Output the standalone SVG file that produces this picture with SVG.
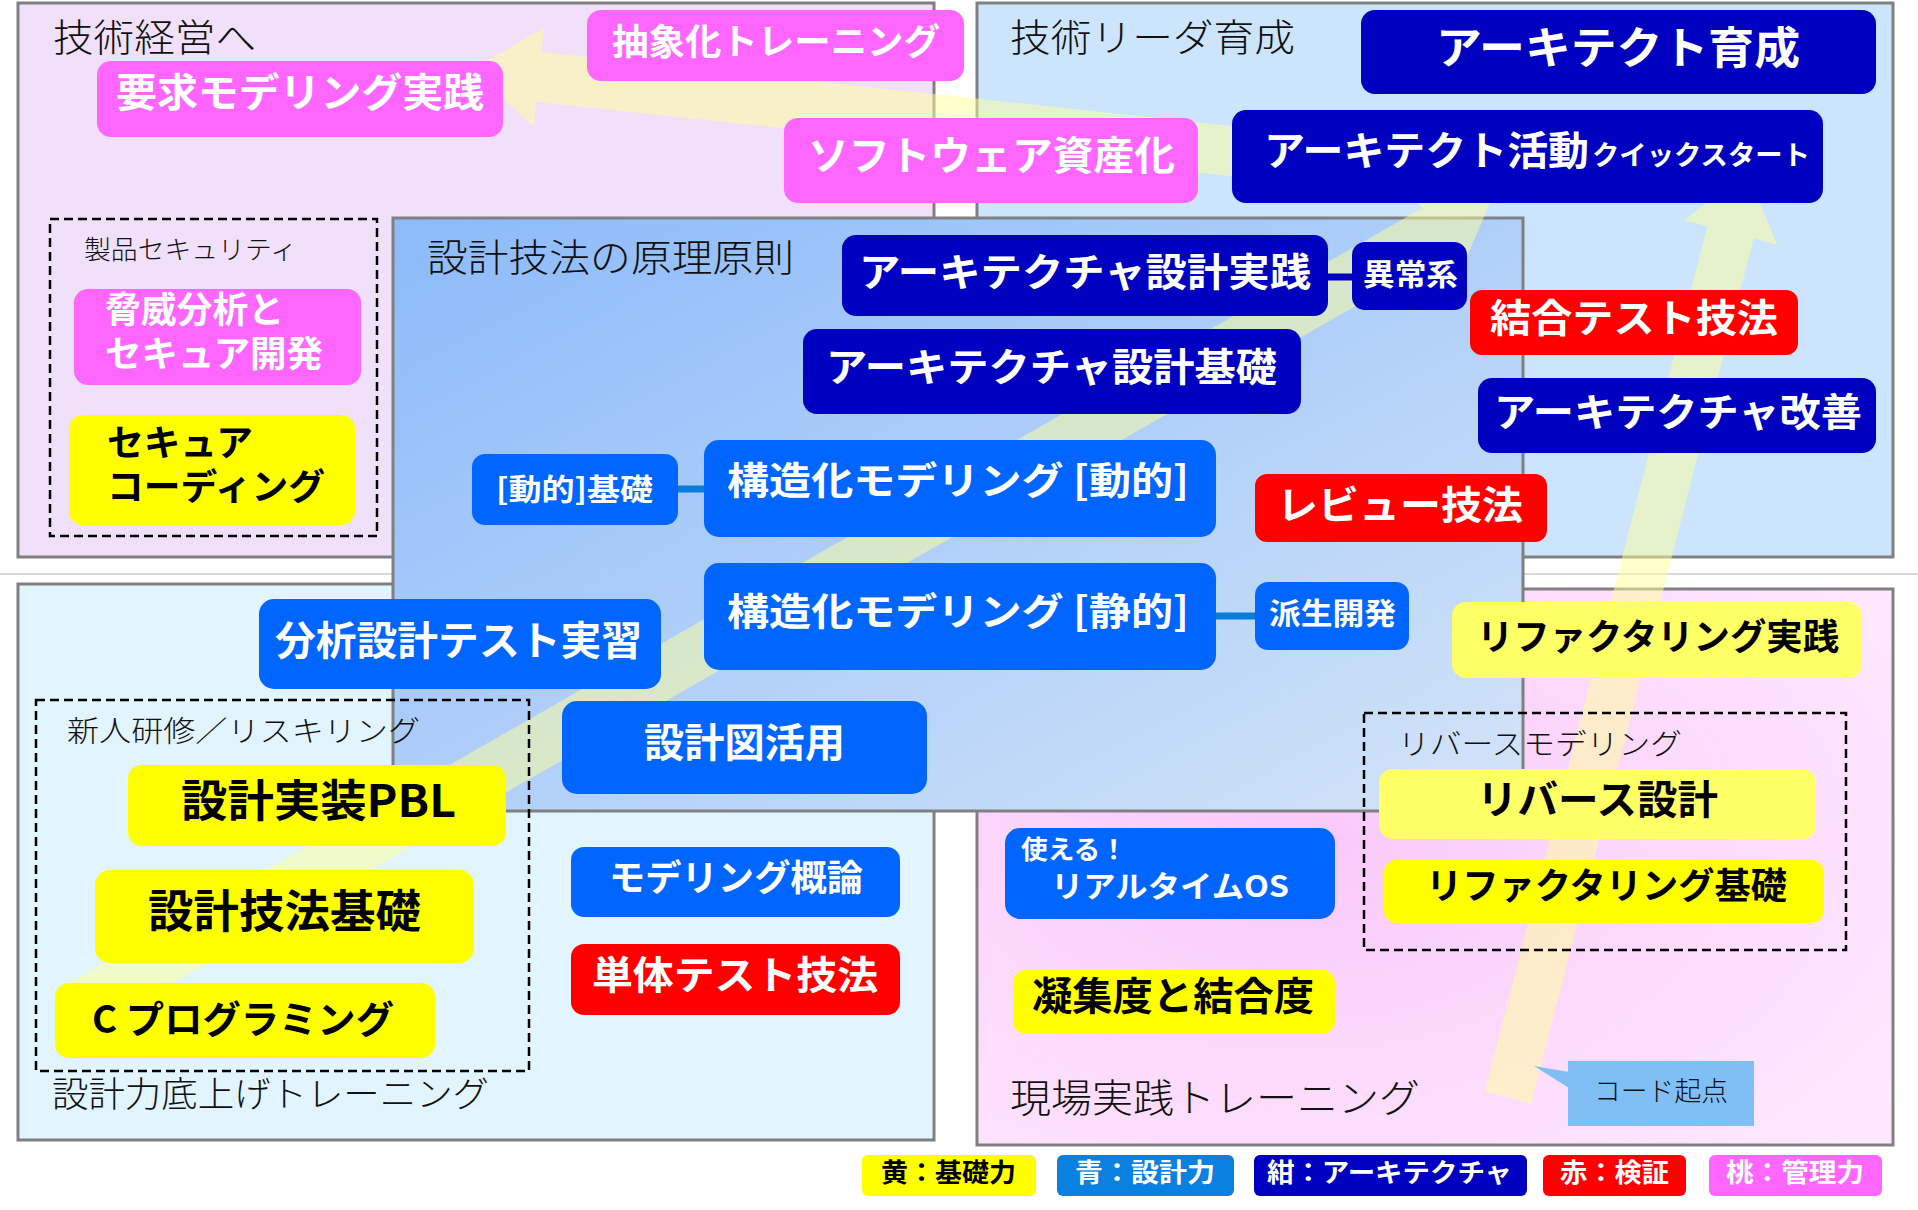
<svg xmlns="http://www.w3.org/2000/svg" width="1918" height="1210" viewBox="0 0 1918 1210">
<defs>
<linearGradient id="gCenter" x1="0" y1="0" x2="1" y2="1">
<stop offset="0" stop-color="#8CBAFA"/>
<stop offset="1" stop-color="#D3E4F8"/>
</linearGradient>
<radialGradient id="gPink" cx="0.35" cy="0.45" r="0.8">
<stop offset="0" stop-color="#F9C8F9"/>
<stop offset="1" stop-color="#FFE9FF"/>
</radialGradient>
<style>
.pn{stroke:#808080;stroke-width:3}
.lbl{font-family:"Noto Sans CJK JP","Noto Sans",sans-serif;font-weight:300;fill:#111}
.t{font-family:"Noto Sans CJK JP","Noto Sans",sans-serif;font-weight:700;fill:#fff}
.tk{font-family:"Noto Sans CJK JP","Noto Sans",sans-serif;font-weight:700;fill:#000}
.dash{fill:none;stroke:#000;stroke-width:2.5;stroke-dasharray:9 5}
.band{fill:#FFFF99;opacity:0.5}
.pink{fill:#FF66FF}
.navy{fill:#0000C0}
.blue{fill:#0066FF}
.red{fill:#FF0000}
.yel{fill:#FFFF00}
.lyel{fill:#FFFF66}
</style>
</defs>
<rect width="1918" height="1210" fill="#fff"/>
<line x1="0" y1="574" x2="1918" y2="574" stroke="#D9D9D9" stroke-width="2"/>

<g id="panel-management">
<rect x="18" y="3" width="916" height="554" fill="#F0E0F9" class="pn"/>
</g>
<g id="panel-leader">
<rect x="977" y="3" width="916" height="554" fill="#CCE5FC" class="pn"/>
</g>
<g id="panel-basic">
<rect x="18" y="584" width="916" height="556" fill="#E2F4FD" class="pn"/>
</g>
<g id="panel-field">
<rect x="977" y="589" width="916" height="556" fill="url(#gPink)" class="pn"/>
</g>
<g id="panel-principle">
<rect x="393" y="218" width="1130" height="593" fill="url(#gCenter)" class="pn"/>
</g>

<g id="growth-arrows">
<polygon class="band" points="1492,198 1459.6,274.2 1447.6,253.4 87.9,1031.9 62.1,986.7 1421.8,208.2 1409.9,187.4"/>
<polygon class="band" points="1746.4,170.5 1777,244.5 1753.7,238.5 1531.2,1103.5 1484.8,1091.5 1707.3,226.5 1684,220.5"/>
<polygon class="band" points="471.4,69.8 544.3,27.3 541.7,52.1 1302.7,133.5 1297.3,183.3 536.3,101.9 533.7,126.7"/>
</g>

<g id="panel-labels">
<text class="lbl" x="53" y="51" font-size="38" textLength="203" lengthAdjust="spacingAndGlyphs">技術経営へ</text>
<text class="lbl" x="1010" y="51" font-size="38" textLength="285" lengthAdjust="spacingAndGlyphs">技術リーダ育成</text>
<text class="lbl" x="427" y="271" font-size="38" textLength="367" lengthAdjust="spacingAndGlyphs">設計技法の原理原則</text>
<text class="lbl" x="52" y="1107" font-size="35" textLength="437" lengthAdjust="spacingAndGlyphs">設計力底上げトレーニング</text>
<text class="lbl" x="1010" y="1112" font-size="39" textLength="410" lengthAdjust="spacingAndGlyphs">現場実践トレーニング</text>
</g>

<g id="group-security">
<rect class="dash" x="50" y="219" width="327" height="317"/>
<text class="lbl" x="84" y="259" font-size="26" textLength="213" lengthAdjust="spacingAndGlyphs">製品セキュリティ</text>
</g>
<g id="group-newcomer">
<rect class="dash" x="36" y="700" width="493" height="371"/>
<text class="lbl" x="67" y="742" font-size="29" textLength="353" lengthAdjust="spacingAndGlyphs">新人研修／リスキリング</text>
</g>
<g id="group-reverse">
<rect class="dash" x="1364" y="713" width="482" height="237"/>
<text class="lbl" x="1398" y="755" font-size="29" textLength="284" lengthAdjust="spacingAndGlyphs">リバースモデリング</text>
</g>

<g id="connectors">
<line x1="1326" y1="277" x2="1354" y2="277" stroke="#0000C0" stroke-width="7"/>
<line x1="676" y1="489" x2="706" y2="489" stroke="#0A7CD8" stroke-width="7"/>
<line x1="1214" y1="616" x2="1257" y2="616" stroke="#0A7CD8" stroke-width="7"/>
</g>

<g id="n-abstraction">
<rect class="pink" x="587" y="10" width="377" height="71" rx="14"/>
<text class="t" x="612" y="55" font-size="36" textLength="328" lengthAdjust="spacingAndGlyphs">抽象化トレーニング</text>
</g>
<g id="n-req-modeling">
<rect class="pink" x="97" y="61" width="406" height="76" rx="14"/>
<text class="t" x="116" y="107" font-size="40" textLength="368" lengthAdjust="spacingAndGlyphs">要求モデリング実践</text>
</g>
<g id="n-software-asset">
<rect class="pink" x="784" y="118" width="414" height="85" rx="14"/>
<text class="t" x="808" y="170" font-size="40" textLength="367" lengthAdjust="spacingAndGlyphs">ソフトウェア資産化</text>
</g>
<g id="n-threat">
<rect class="pink" x="74" y="289" width="287" height="96" rx="14"/>
<text class="t" x="105" y="323" font-size="36" textLength="179" lengthAdjust="spacingAndGlyphs">脅威分析と</text>
<text class="t" x="105" y="367" font-size="36" textLength="218" lengthAdjust="spacingAndGlyphs">セキュア開発</text>
</g>
<g id="n-secure-coding">
<rect class="yel" x="69" y="415" width="286" height="110" rx="14"/>
<text class="tk" x="107" y="456" font-size="36" textLength="146" lengthAdjust="spacingAndGlyphs">セキュア</text>
<text class="tk" x="107" y="500" font-size="36" textLength="218" lengthAdjust="spacingAndGlyphs">コーディング</text>
</g>
<g id="n-architect-dev">
<rect class="navy" x="1361" y="10" width="515" height="84" rx="14"/>
<text class="t" x="1436" y="64" font-size="44" textLength="364" lengthAdjust="spacingAndGlyphs">アーキテクト育成</text>
</g>
<g id="n-architect-qs">
<rect class="navy" x="1232" y="110" width="591" height="93" rx="14"/>
<text class="t" x="1264" y="165" font-size="40" textLength="325" lengthAdjust="spacingAndGlyphs">アーキテクト活動</text>
<text class="t" x="1592" y="165" font-size="27" textLength="218" lengthAdjust="spacingAndGlyphs">クイックスタート</text>
</g>
<g id="n-arch-practice">
<rect class="navy" x="842" y="235" width="486" height="81" rx="14"/>
<text class="t" x="859" y="286" font-size="39" textLength="452" lengthAdjust="spacingAndGlyphs">アーキテクチャ設計実践</text>
</g>
<g id="n-abnormal">
<rect class="navy" x="1352" y="242" width="115" height="68" rx="13"/>
<text class="t" x="1363" y="285" font-size="30" textLength="95" lengthAdjust="spacingAndGlyphs">異常系</text>
</g>
<g id="n-arch-basic">
<rect class="navy" x="803" y="329" width="498" height="85" rx="14"/>
<text class="t" x="826" y="381" font-size="39" textLength="451" lengthAdjust="spacingAndGlyphs">アーキテクチャ設計基礎</text>
</g>
<g id="n-integration-test">
<rect class="red" x="1470" y="290" width="328" height="65" rx="12"/>
<text class="t" x="1490" y="332" font-size="39" textLength="288" lengthAdjust="spacingAndGlyphs">結合テスト技法</text>
</g>
<g id="n-arch-improve">
<rect class="navy" x="1478" y="378" width="398" height="75" rx="14"/>
<text class="t" x="1494" y="426" font-size="39" textLength="368" lengthAdjust="spacingAndGlyphs">アーキテクチャ改善</text>
</g>
<g id="n-dynamic-basic">
<rect class="blue" x="472" y="454" width="206" height="71" rx="13"/>
<text class="t" x="496" y="500" font-size="30" textLength="157" lengthAdjust="spacingAndGlyphs">[動的]基礎</text>
</g>
<g id="n-struct-dynamic">
<rect class="blue" x="704" y="440" width="512" height="97" rx="15"/>
<text class="t" x="727" y="494" font-size="38" textLength="462" lengthAdjust="spacingAndGlyphs">構造化モデリング [動的]</text>
</g>
<g id="n-review">
<rect class="red" x="1255" y="474" width="292" height="68" rx="12"/>
<text class="t" x="1277" y="519" font-size="39" textLength="246" lengthAdjust="spacingAndGlyphs">レビュー技法</text>
</g>
<g id="n-struct-static">
<rect class="blue" x="704" y="563" width="512" height="107" rx="15"/>
<text class="t" x="727" y="625" font-size="38" textLength="462" lengthAdjust="spacingAndGlyphs">構造化モデリング [静的]</text>
</g>
<g id="n-derivative">
<rect class="blue" x="1255" y="582" width="154" height="68" rx="13"/>
<text class="t" x="1269" y="624" font-size="30" textLength="127" lengthAdjust="spacingAndGlyphs">派生開発</text>
</g>
<g id="n-analysis-practice">
<rect class="blue" x="259" y="599" width="402" height="90" rx="15"/>
<text class="t" x="275" y="655" font-size="40" textLength="367" lengthAdjust="spacingAndGlyphs">分析設計テスト実習</text>
</g>
<g id="n-diagram-use">
<rect class="blue" x="562" y="701" width="365" height="93" rx="15"/>
<text class="t" x="644" y="757" font-size="40" textLength="201" lengthAdjust="spacingAndGlyphs">設計図活用</text>
</g>
<g id="n-pbl">
<rect class="yel" x="128" y="765" width="378" height="81" rx="14"/>
<text class="tk" x="181" y="817" font-size="44" textLength="275" lengthAdjust="spacingAndGlyphs">設計実装PBL</text>
</g>
<g id="n-design-basic">
<rect class="yel" x="95" y="870" width="379" height="93" rx="15"/>
<text class="tk" x="148" y="928" font-size="45" textLength="273" lengthAdjust="spacingAndGlyphs">設計技法基礎</text>
</g>
<g id="n-c-programming">
<rect class="yel" x="55" y="983" width="380" height="75" rx="14"/>
<text class="tk" x="92" y="1033" font-size="38" textLength="302" lengthAdjust="spacingAndGlyphs">C プログラミング</text>
</g>
<g id="n-modeling-intro">
<rect class="blue" x="571" y="847" width="329" height="70" rx="13"/>
<text class="t" x="609" y="891" font-size="36" textLength="254" lengthAdjust="spacingAndGlyphs">モデリング概論</text>
</g>
<g id="n-unit-test">
<rect class="red" x="571" y="944" width="329" height="71" rx="13"/>
<text class="t" x="592" y="989" font-size="39" textLength="286" lengthAdjust="spacingAndGlyphs">単体テスト技法</text>
</g>
<g id="n-refactoring-practice">
<rect class="lyel" x="1452" y="602" width="410" height="76" rx="14"/>
<text class="tk" x="1477" y="650" font-size="36" textLength="362" lengthAdjust="spacingAndGlyphs">リファクタリング実践</text>
</g>
<g id="n-reverse-design">
<rect class="lyel" x="1379" y="769" width="437" height="70" rx="14"/>
<text class="tk" x="1477" y="814" font-size="40" textLength="241" lengthAdjust="spacingAndGlyphs">リバース設計</text>
</g>
<g id="n-refactoring-basic">
<rect class="yel" x="1384" y="860" width="440" height="63" rx="13"/>
<text class="tk" x="1426" y="899" font-size="36" textLength="361" lengthAdjust="spacingAndGlyphs">リファクタリング基礎</text>
</g>
<g id="n-rtos">
<rect class="blue" x="1005" y="828" width="330" height="91" rx="15"/>
<text class="t" x="1021" y="859" font-size="26" textLength="106" lengthAdjust="spacingAndGlyphs">使える！</text>
<text class="t" x="1051" y="897" font-size="30" textLength="238" lengthAdjust="spacingAndGlyphs">リアルタイムOS</text>
</g>
<g id="n-cohesion">
<rect class="yel" x="1013" y="970" width="322" height="64" rx="13"/>
<text class="tk" x="1032" y="1010" font-size="39" textLength="282" lengthAdjust="spacingAndGlyphs">凝集度と結合度</text>
</g>
<g id="callout-code">
<polygon points="1534,1066 1569,1072 1569,1088" fill="#80BFF5"/>
<rect x="1568" y="1061" width="186" height="65" fill="#80BFF5"/>
<text class="lbl" x="1594" y="1101" font-size="27" textLength="134" lengthAdjust="spacingAndGlyphs">コード起点</text>
</g>

<g id="legend">
<rect class="yel" x="862" y="1155" width="174" height="41" rx="6"/>
<text class="tk" x="881" y="1182" font-size="26" textLength="135" lengthAdjust="spacingAndGlyphs">黄：基礎力</text>
<rect x="1057" y="1155" width="177" height="41" rx="6" fill="#0A80E0"/>
<text class="t" x="1075" y="1182" font-size="26" textLength="140" lengthAdjust="spacingAndGlyphs">青：設計力</text>
<rect class="navy" x="1254" y="1155" width="273" height="41" rx="6"/>
<text class="t" x="1267" y="1182" font-size="26" textLength="245" lengthAdjust="spacingAndGlyphs">紺：アーキテクチャ</text>
<rect class="red" x="1543" y="1155" width="143" height="41" rx="6"/>
<text class="t" x="1560" y="1182" font-size="26" textLength="109" lengthAdjust="spacingAndGlyphs">赤：検証</text>
<rect class="pink" x="1709" y="1155" width="173" height="41" rx="6"/>
<text class="t" x="1726" y="1182" font-size="26" textLength="138" lengthAdjust="spacingAndGlyphs">桃：管理力</text>
</g>
</svg>
